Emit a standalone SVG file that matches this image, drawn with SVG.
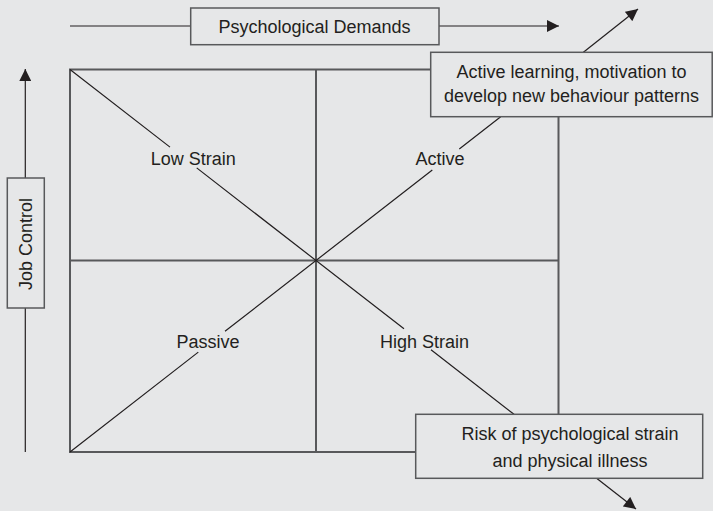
<svg xmlns="http://www.w3.org/2000/svg" width="713" height="511" viewBox="0 0 713 511">
<style>
text{font-family:"Liberation Sans",Arial,sans-serif;font-size:18px;fill:#231f20;text-anchor:middle}
.frame{stroke:#58595b;stroke-width:2;fill:none}
.thin{stroke:#231f20;stroke-width:1.2;fill:none}
.box{fill:#e6e7e8;stroke:#58595b;stroke-width:1.5}
</style>
<defs>
<marker id="ah" viewBox="0 0 12 12" refX="12" refY="6" markerWidth="13" markerHeight="12" markerUnits="userSpaceOnUse" orient="auto">
<path d="M0,0 L12,6 L0,12 Z" fill="#231f20"/>
</marker>
</defs>
<rect x="0" y="0" width="713" height="511" fill="#e6e7e8"/>
<g id="connectors">
<line class="thin" x1="70" y1="26" x2="190.7" y2="26"/>
<line class="thin" x1="439" y1="26" x2="559" y2="26" marker-end="url(#ah)"/>
<line class="thin" x1="25.3" y1="178" x2="25.3" y2="69" marker-end="url(#ah)"/>
<line class="thin" x1="25.3" y1="308" x2="25.3" y2="452"/>
<path class="frame" d="M430.7,69.5 H70 V452 H415.7 M558.5,116.7 V414.3 M70,260.5 H558.5 M316,69.5 V452"/>
<path class="thin" d="M70,69.5 L170,147.1 M196.7,167.9 L404,328.8 M431,349.8 L514,414.3"/>
<line class="thin" x1="596.6" y1="478.3" x2="636" y2="509" marker-end="url(#ah)"/>
<path class="thin" d="M70,452 L198.3,352.1 M225,331.3 L432.3,170 M459.3,149 L500.7,116.7"/>
<line class="thin" x1="583.4" y1="52.3" x2="638" y2="9" marker-end="url(#ah)"/>
</g>
<g id="psych-demands">
<rect class="box" x="190.7" y="8" width="248.3" height="36.7"/>
<text x="314.5" y="33">Psychological Demands</text>
</g>
<g id="job-control">
<rect class="box" x="7.3" y="178" width="37" height="130"/>
<text transform="translate(31.5,244) rotate(-90)">Job Control</text>
</g>
<g id="low-strain"><text x="193.3" y="165">Low Strain</text></g>
<g id="active"><text x="440" y="165">Active</text></g>
<g id="passive"><text x="208" y="347.5">Passive</text></g>
<g id="high-strain"><text x="424.5" y="347.5">High Strain</text></g>
<g id="active-learning">
<rect class="box" x="430.7" y="52.3" width="281.5" height="64.4"/>
<text x="571.5" y="77.5">Active learning, motivation to</text>
<text x="571.5" y="101.5">develop new behaviour patterns</text>
</g>
<g id="risk">
<rect class="box" x="415.7" y="414.3" width="287" height="64"/>
<text x="570" y="440">Risk of psychological strain</text>
<text x="570" y="466.7">and physical illness</text>
</g>
</svg>
